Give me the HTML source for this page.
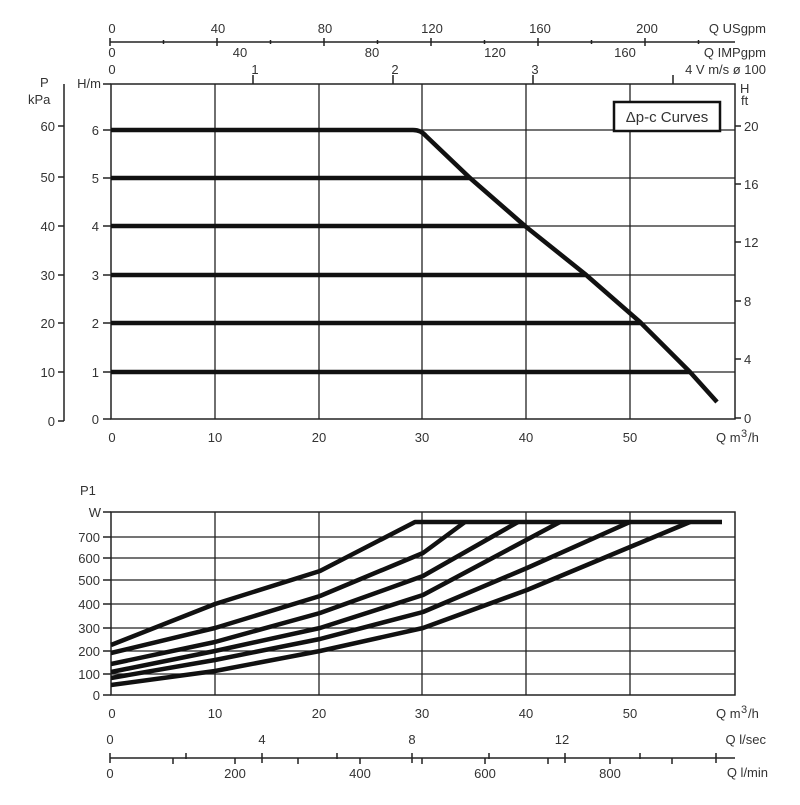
<!DOCTYPE html>
<html><head><meta charset="utf-8"><style>
body{margin:0;background:#fff}
svg text{font-family:"Liberation Sans",sans-serif;font-size:13px;fill:#333}
</style></head><body>
<svg width="800" height="800" xmlns="http://www.w3.org/2000/svg">
<rect width="800" height="800" fill="#fff"/>
<g stroke="#222" stroke-width="1.5" fill="none">
<line x1="110" y1="42" x2="735" y2="42"/>
<path d="M110 38V46M163.5 40V44M217 38V46M270.5 40V44M324 38V46M377.5 40V44M431 38V46M484.5 40V44M538 38V46M591.5 40V44M645 38V46M698.5 40V44"/>
<path d="M253 75V84M393 75V84M533 75V84M673 75V84"/>
<rect x="111" y="84" width="624" height="335"/>
<line x1="64" y1="84" x2="64" y2="421"/>
<path d="M215 84V419M319 84V419M422 84V419M526 84V419M630 84V419" stroke-width="1.3"/>
<path d="M111 130H735M111 178H735M111 226H735M111 275H735M111 323H735M111 372H735" stroke-width="1.3"/>
<path d="M103 84H111M103 130H111M103 178H111M103 226H111M103 275H111M103 323H111M103 372H111M103 419H111"/>
<path d="M58 126H64M58 177H64M58 226H64M58 275H64M58 323H64M58 372H64M58 421H64"/>
<path d="M735 126H741M735 184H741M735 242H741M735 301H741M735 359H741M735 418H741"/>
</g>
<g stroke="#111" stroke-width="4.5" fill="none" stroke-linejoin="round">
<path d="M111 130H413Q421 130 426 136L470 178L525 226L585 274L640 322L690 372L717 402"/>
<path d="M111 178H470M111 226H525M111 275H585M111 323H640M111 372H690"/>
</g>
<rect x="614" y="102" width="106" height="29" fill="#fff" stroke="#111" stroke-width="2.5"/>
<text x="667" y="122" text-anchor="middle" style="font-size:15px">Δp-c Curves</text>
<g text-anchor="middle">
<text x="112" y="33">0</text><text x="218" y="33">40</text><text x="325" y="33">80</text><text x="432" y="33">120</text><text x="540" y="33">160</text><text x="647" y="33">200</text>
<text x="112" y="57">0</text><text x="240" y="57">40</text><text x="372" y="57">80</text><text x="495" y="57">120</text><text x="625" y="57">160</text>
<text x="112" y="74">0</text><text x="255" y="74">1</text><text x="395" y="74">2</text><text x="535" y="74">3</text>
<text x="112" y="442">0</text><text x="215" y="442">10</text><text x="319" y="442">20</text><text x="422" y="442">30</text><text x="526" y="442">40</text><text x="630" y="442">50</text>
</g>
<g text-anchor="end">
<text x="766" y="33">Q USgpm</text><text x="766" y="57">Q IMPgpm</text><text x="766" y="74">4 V m/s ø 100</text>
<text x="101" y="88">H/m</text>
<text x="99" y="135">6</text><text x="99" y="183">5</text><text x="99" y="231">4</text><text x="99" y="280">3</text><text x="99" y="328">2</text><text x="99" y="377">1</text><text x="99" y="424">0</text>
<text x="55" y="131">60</text><text x="55" y="182">50</text><text x="55" y="231">40</text><text x="55" y="280">30</text><text x="55" y="328">20</text><text x="55" y="377">10</text><text x="55" y="426">0</text>
</g>
<text x="40" y="87">P</text><text x="28" y="104">kPa</text>
<text x="740" y="93">H</text><text x="741" y="105">ft</text>
<g><text x="744" y="131">20</text><text x="744" y="189">16</text><text x="744" y="247">12</text><text x="744" y="306">8</text><text x="744" y="364">4</text><text x="744" y="423">0</text></g>
<text x="716" y="442">Q m</text><text x="741" y="437" style="font-size:11px">3</text><text x="748" y="442">/h</text>
<g stroke="#222" stroke-width="1.5" fill="none">
<rect x="111" y="512" width="624" height="183"/>
<path d="M215 512V695M319 512V695M422 512V695M526 512V695M630 512V695" stroke-width="1.3"/>
<path d="M111 537H735M111 558H735M111 580H735M111 604H735M111 628H735M111 651H735M111 674H735" stroke-width="1.3"/>
<path d="M103 512H111M103 537H111M103 558H111M103 580H111M103 604H111M103 628H111M103 651H111M103 674H111M103 695H111"/>
<line x1="110" y1="758" x2="735" y2="758"/>
<path d="M110 753V763M186 753V759M262 753V763M337 753V759M412 753V763M489 753V759M565 753V763M640 753V759M716 753V763"/>
<path d="M173 758V764M235 758V764M298 758V764M360 758V764M422 758V764M485 758V764M548 758V764M610 758V764M672 758V764"/>
</g>
<g stroke="#111" stroke-width="4.5" fill="none" stroke-linejoin="round">
<polyline points="111,645 215,604 320,571 415,522 722,522"/>
<polyline points="111,653 215,628 320,596 423,553 465,522"/>
<polyline points="111,664 215,642 320,613 423,576 518,522"/>
<polyline points="111,672 215,651 320,628 423,595 560,522"/>
<polyline points="111,678 215,660 320,639 423,612 527,568 630,522"/>
<polyline points="111,685 215,671 320,651 423,628 527,590 630,547 690,522"/>
</g>
<text x="80" y="495">P1</text>
<g text-anchor="end">
<text x="101" y="517">W</text><text x="100" y="542">700</text><text x="100" y="563">600</text><text x="100" y="585">500</text><text x="100" y="609">400</text><text x="100" y="633">300</text><text x="100" y="656">200</text><text x="100" y="679">100</text><text x="100" y="700">0</text>
<text x="766" y="744">Q l/sec</text><text x="768" y="777">Q l/min</text>
</g>
<g text-anchor="middle">
<text x="112" y="718">0</text><text x="215" y="718">10</text><text x="319" y="718">20</text><text x="422" y="718">30</text><text x="526" y="718">40</text><text x="630" y="718">50</text>
<text x="110" y="744">0</text><text x="262" y="744">4</text><text x="412" y="744">8</text><text x="562" y="744">12</text>
<text x="110" y="778">0</text><text x="235" y="778">200</text><text x="360" y="778">400</text><text x="485" y="778">600</text><text x="610" y="778">800</text>
</g>
<text x="716" y="718">Q m</text><text x="741" y="713" style="font-size:11px">3</text><text x="748" y="718">/h</text>
</svg>
</body></html>
